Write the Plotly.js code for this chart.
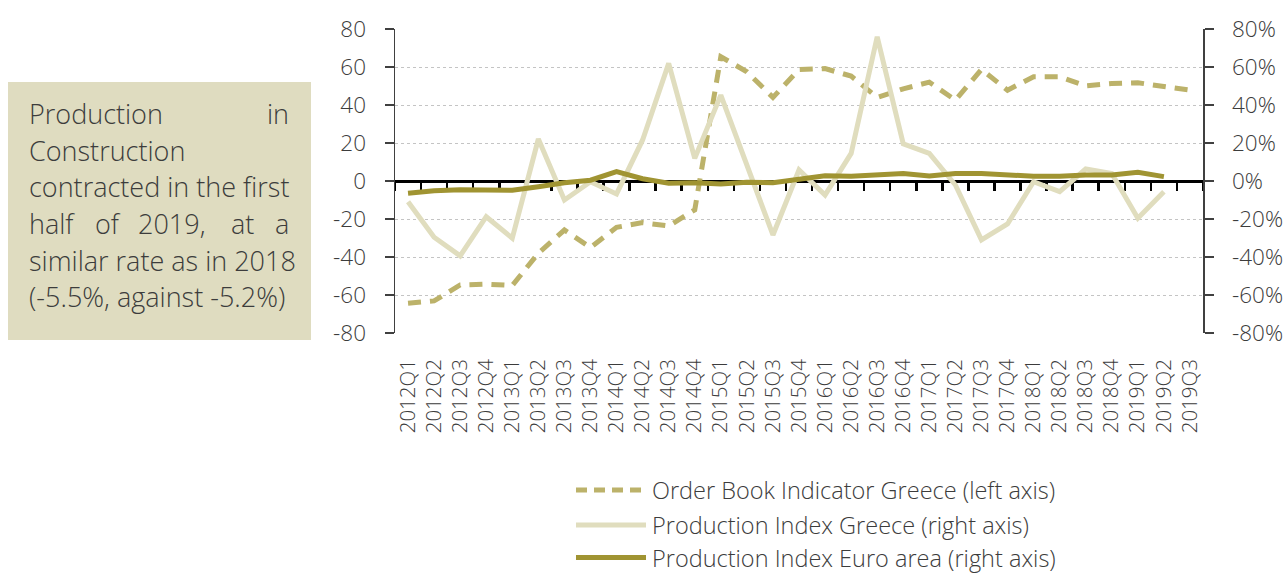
<!DOCTYPE html>
<html>
<head>
<meta charset="utf-8">
<script src="https://cdn.plot.ly/plotly-3.0.1.min.js"></script>
<style>
  html, body { margin: 0; padding: 0; background: #fff; }
  #chart { width: 1283px; height: 574px; }
</style>
</head>
<body>
<div id="chart"></div>
<script>
// ---------- DATA ----------
const quarters = [
  "2012Q1","2012Q2","2012Q3","2012Q4","2013Q1","2013Q2","2013Q3","2013Q4",
  "2014Q1","2014Q2","2014Q3","2014Q4","2015Q1","2015Q2","2015Q3","2015Q4",
  "2016Q1","2016Q2","2016Q3","2016Q4","2017Q1","2017Q2","2017Q3","2017Q4",
  "2018Q1","2018Q2","2018Q3","2018Q4","2019Q1","2019Q2","2019Q3"
];
// Order Book Indicator Greece (left axis, balance)
const orderBookGreece = [
  -64.3, -63.1, -54.7, -54.3, -55.0, -38.0, -25.8, -35.0,
  -24.4, -21.9, -23.7, -15.2, 65.4, 57.5, 44.0, 58.7,
  59.2, 55.2, 44.0, 48.5, 52.0, 42.6, 58.7, 47.8,
  54.9, 54.9, 50.1, 51.3, 51.7, 49.6, 47.8
];
// Production Index Greece (right axis, % y-o-y)
const prodGreece = [
  -10.9, -29.6, -39.4, -18.8, -30.1, 22.1, -10.0, -0.4,
  -6.8, 21.6, 61.9, 11.9, 45.2, 9.3, -28.4, 5.8,
  -7.4, 14.5, 75.9, 19.5, 14.5, -2.1, -31.0, -22.6,
  -0.4, -5.6, 6.3, 4.0, -19.6, -5.6, null
];
// Production Index Euro area (right axis, % y-o-y)
const prodEuro = [
  -6.5, -5.1, -4.6, -4.9, -4.9, -3.0, -0.9, 0.4,
  4.9, 1.2, -1.2, -0.9, -1.6, -0.7, -0.9, 0.9,
  2.8, 2.5, 3.3, 3.9, 2.6, 3.9, 3.9, 3.0,
  2.5, 2.5, 3.2, 3.2, 4.6, 2.3, null
];
const seriesNames = [
  "Order Book Indicator Greece (left axis)",
  "Production Index Greece (right axis)",
  "Production Index Euro area (right axis)"
];
const leftTicks = [-80, -60, -40, -20, 0, 20, 40, 60, 80];
const noteLines = [
  ["Production", "in"],
  ["Construction"],
  ["contracted in the first"],
  ["half", "of", "2019,", "at", "a"],
  ["similar rate as in 2018"],
  ["(-5.5%, against -5.2%)"]
];

// ---------- STYLE ----------
const W = 1283, H = 574;
const M = { l: 395, r: 80, t: 29, b: 241 };
const PW = W - M.l - M.r, PH = H - M.t - M.b;
const px = x => (x - M.l) / PW;           // pixel -> paper x
const py = y => (H - M.b - y) / PH;       // pixel -> paper y

const FONT = "'Open Sans', 'Noto Sans', sans-serif";
const cDash = "#bcb26a", cLight = "#e0ddbe", cDark = "#a09432";
const txt = "#3c3c3c";

const traces = [
  // carrier for the zero-line category axis (draws nothing)
  { x: [0], y: [null], type: "scatter", mode: "lines", xaxis: "x2", yaxis: "y",
    showlegend: false, hoverinfo: "skip", line: { width: 0 } },
  { x: quarters, y: orderBookGreece, name: seriesNames[0], type: "scatter", mode: "lines",
    line: { color: cDash, width: 5, dash: "13px,9px" }, xaxis: "x", yaxis: "y" },
  { x: quarters, y: prodGreece, name: seriesNames[1], type: "scatter", mode: "lines",
    line: { color: cLight, width: 5 }, xaxis: "x", yaxis: "y2" },
  { x: quarters, y: prodEuro, name: seriesNames[2], type: "scatter", mode: "lines",
    line: { color: cDark, width: 5 }, xaxis: "x", yaxis: "y2" }
];

const tickFont = { family: FONT, size: 22.5, color: txt, weight: 300 };

const shapes = [
  // note box
  { type: "rect", xref: "paper", yref: "paper", x0: px(8), x1: px(311), y0: py(340), y1: py(82),
    fillcolor: "#dfdcc0", line: { width: 0 }, layer: "below" }
];
const annotations = [];

// note text
const lineY = [113.3, 150, 186.7, 223.3, 260, 296.7];
const noteFont = { family: FONT, size: 27, color: txt, weight: 300 };
noteLines.forEach((words, i) => {
  const y = py(lineY[i]);
  if (words.length === 1) {
    annotations.push({ xref: "paper", yref: "paper", x: px(27), y, text: words[0], showarrow: false,
      xanchor: "left", yanchor: "middle", font: noteFont });
  } else {
    const n = words.length;
    const left = 27, right = 291;
    const centers = words.length === 5 ? [null, 107.5, 172, 242.5, null] : [];
    words.forEach((w, j) => {
      let xa = "center", xp;
      if (j === 0) { xa = "left"; xp = left; }
      else if (j === n - 1) { xa = "right"; xp = right; }
      else { xp = centers[j]; }
      annotations.push({ xref: "paper", yref: "paper", x: px(xp), y, text: w, showarrow: false,
        xanchor: xa, yanchor: "middle", font: noteFont });
    });
  }
});

// custom legend
const legY = [490, 525, 557.5];
const legStyles = [
  { color: cDash, width: 5, dash: "11px,7px" },
  { color: cLight, width: 5 },
  { color: cDark, width: 5 }
];
seriesNames.forEach((nm, i) => {
  shapes.push({ type: "line", xref: "paper", yref: "paper", x0: px(576), x1: px(646),
    y0: py(legY[i]), y1: py(legY[i]), line: legStyles[i] });
  annotations.push({ xref: "paper", yref: "paper", x: px(650), y: py(legY[i]), text: nm,
    showarrow: false, xanchor: "left", yanchor: "middle",
    font: { family: FONT, size: 23.5, color: txt, weight: 300 } });
});

const layout = {
  width: W, height: H,
  margin: M,
  paper_bgcolor: "#ffffff", plot_bgcolor: "#ffffff",
  showlegend: false,
  font: { family: FONT, color: txt },
  xaxis: {
    type: "category", categoryorder: "array", categoryarray: quarters,
    range: [-0.5, quarters.length - 0.5],
    showgrid: false, showline: false, zeroline: false, ticks: "",
    tickangle: -90, tickfont: { family: FONT, size: 20.5, color: txt, weight: 300 },
    ticklabelstandoff: 21
  },
  xaxis2: {
    overlaying: "x", anchor: "free", position: 0.5, layer: "below traces",
    type: "linear", range: [-0.5, quarters.length - 0.5],
    tick0: -0.5, dtick: 1, tickmode: "linear",
    showline: true, linecolor: "#000000", linewidth: 3,
    ticks: "outside", ticklen: 8, tickwidth: 2.5, tickcolor: "#000000",
    showticklabels: false, showgrid: false, zeroline: false
  },
  yaxis: {
    range: [-80, 80], tickvals: leftTicks, ticktext: leftTicks.map(String),
    showgrid: true, gridcolor: "#c4c4c4", gridwidth: 1, griddash: "dot",
    zeroline: false, showline: true, linecolor: "#404040", linewidth: 1.5,
    ticks: "outside", ticklen: 9, tickwidth: 1.5, tickcolor: "#404040",
    tickfont: tickFont, ticklabelstandoff: 14
  },
  yaxis2: {
    overlaying: "y", side: "right", anchor: "x",
    range: [-80, 80], tickvals: leftTicks, ticktext: leftTicks.map(v => v + "%"),
    showgrid: false, zeroline: false, showline: true, linecolor: "#404040", linewidth: 1.5,
    ticks: "outside", ticklen: 9, tickwidth: 1.5, tickcolor: "#404040",
    tickfont: tickFont, ticklabelstandoff: 14
  },
  shapes, annotations
};

Plotly.newPlot("chart", traces, layout, { displayModeBar: false, staticPlot: true });
</script>
</body>
</html>
